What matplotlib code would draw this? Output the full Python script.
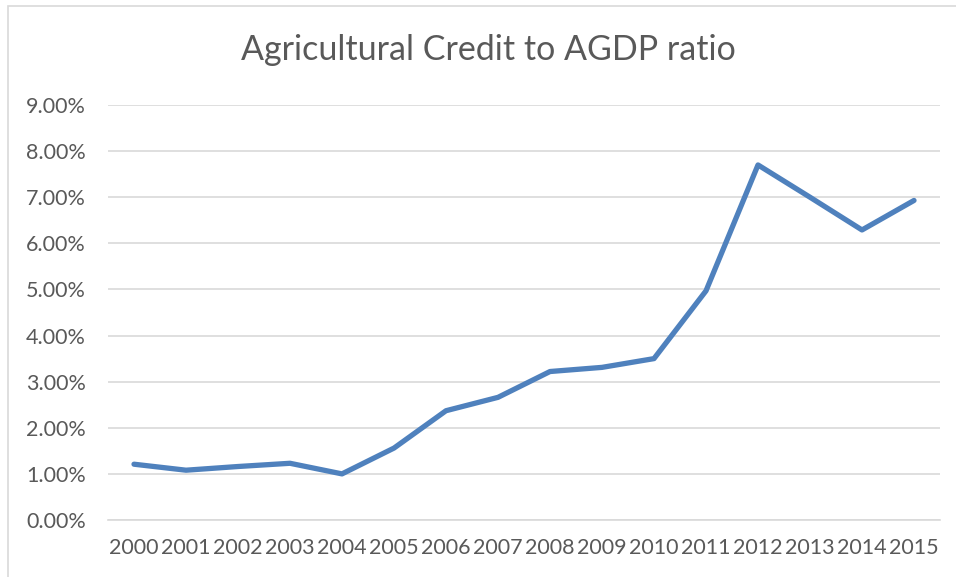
import matplotlib

matplotlib.use("Agg")
import matplotlib.pyplot as plt
import matplotlib.patches as mpatches
from matplotlib.ticker import FuncFormatter, MultipleLocator

years = ["2000", "2001", "2002", "2003", "2004", "2005", "2006", "2007",
         "2008", "2009", "2010", "2011", "2012", "2013", "2014", "2015"]
ratio = [0.0121, 0.0108, 0.0116, 0.0123, 0.0100, 0.0156, 0.0237, 0.0266,
         0.0322, 0.0331, 0.0350, 0.0497, 0.0770, 0.0700, 0.0629, 0.0693]

LINE_COLOR = "#4F81BD"
TEXT_COLOR = "#595959"
GRID_COLOR = "#D9D9D9"

plt.rcParams["font.family"] = ["Lato", "DejaVu Sans"]

fig = plt.figure(figsize=(9.56, 5.77), dpi=100)
ax = fig.add_axes([108 / 956, 57 / 577, 832 / 956, 415 / 577])

# chart-area frame (left and top edges visible)
fig.patches.append(mpatches.Rectangle(
    (8 / 956, -0.1), 1.2, (571 / 577) + 0.1, transform=fig.transFigure,
    fill=False, edgecolor="#D9D9D9", lw=1.2))

x = range(len(years))
ax.plot(x, ratio, color=LINE_COLOR, lw=3.8, solid_capstyle="round",
        solid_joinstyle="round", zorder=3)

ax.set_xlim(-0.5, len(years) - 0.5)
ax.set_ylim(0, 0.09)
ax.yaxis.set_major_locator(MultipleLocator(0.01))
ax.yaxis.set_major_formatter(FuncFormatter(lambda v, _: f"{v * 100:.2f}%"))
ax.set_xticks(list(x))
ax.set_xticklabels(years)

ax.grid(axis="y", color=GRID_COLOR, lw=1.2)
ax.set_axisbelow(True)
for side in ["top", "right", "left"]:
    ax.spines[side].set_visible(False)
ax.spines["bottom"].set_color(GRID_COLOR)
ax.spines["bottom"].set_linewidth(1.2)
ax.tick_params(axis="both", length=0, labelsize=15.5, labelcolor=TEXT_COLOR)
ax.tick_params(axis="y", pad=16)
ax.tick_params(axis="x", pad=13)

fig.text(488 / 956, 1 - 50 / 577, "Agricultural Credit to AGDP ratio",
         ha="center", va="center", fontsize=24.5, color=TEXT_COLOR)

fig.savefig("out.png", dpi=100)
